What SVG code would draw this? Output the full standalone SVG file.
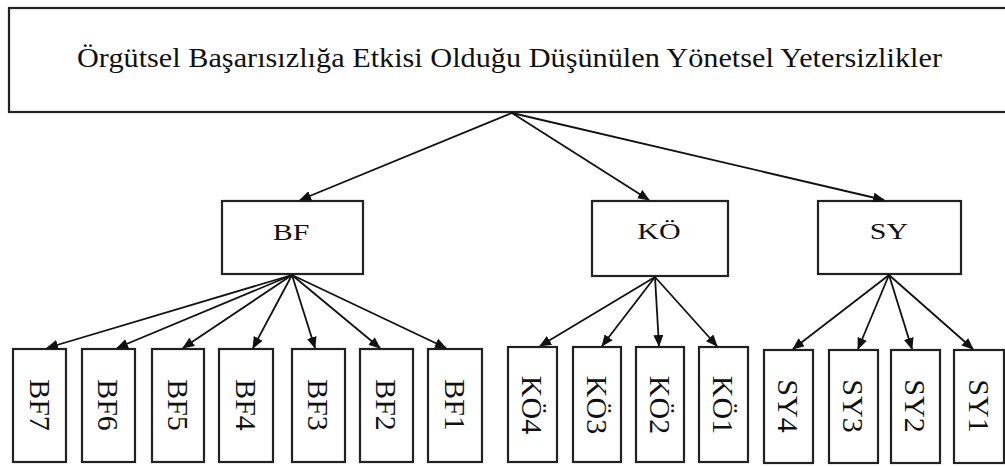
<svg xmlns="http://www.w3.org/2000/svg" width="1005" height="467" viewBox="0 0 1005 467">
<style>
.box{fill:#fff;stroke:#222;stroke-width:2.2}
.conn line{stroke:#111;stroke-width:1.8;fill:none}
.t{font-family:"Liberation Serif","Times New Roman",serif;fill:#111}
.mt{font-family:"Liberation Serif","Times New Roman",serif;fill:#111;font-size:24px;text-anchor:middle}
.vt{font-family:"Liberation Serif","Times New Roman",serif;fill:#111;font-size:30px;text-anchor:middle}
</style>
<defs>
<marker id="ah" markerWidth="12" markerHeight="10" refX="11" refY="5" orient="auto" markerUnits="userSpaceOnUse">
<path d="M0,0 L12,5 L0,10 z" fill="#111"/>
</marker>
</defs>
<rect width="1005" height="467" fill="#fff"/>

<g id="root">
<rect class="box" x="9" y="8" width="1010" height="104" stroke-width="2.6"/>
<text class="t" x="77" y="67" font-size="27" textLength="865" lengthAdjust="spacingAndGlyphs">Örgütsel Başarısızlığa Etkisi Olduğu Düşünülen Yönetsel Yetersizlikler</text>
</g>

<g id="BF"><rect class="box" x="222" y="201" width="141" height="73"/><text class="mt" transform="translate(291,240) scale(1.25,1)">BF</text></g>
<g id="KO"><rect class="box" x="592" y="201" width="136" height="75"/><text class="mt" transform="translate(659,239) scale(1.25,1)">KÖ</text></g>
<g id="SY"><rect class="box" x="818" y="201" width="143" height="73"/><text class="mt" transform="translate(889,239) scale(1.25,1)">SY</text></g>

<g id="BF7"><rect class="box" x="13" y="349" width="53" height="113"/><text class="vt" x="0" y="10" transform="translate(40,405) rotate(90)">BF7</text></g>
<g id="BF6"><rect class="box" x="82" y="349" width="53" height="113"/><text class="vt" x="0" y="10" transform="translate(108,405) rotate(90)">BF6</text></g>
<g id="BF5"><rect class="box" x="152" y="349" width="52" height="113"/><text class="vt" x="0" y="10" transform="translate(178,405) rotate(90)">BF5</text></g>
<g id="BF4"><rect class="box" x="219" y="349" width="54" height="113"/><text class="vt" x="0" y="10" transform="translate(246,405) rotate(90)">BF4</text></g>
<g id="BF3"><rect class="box" x="292" y="349" width="53" height="113"/><text class="vt" x="0" y="10" transform="translate(318,405) rotate(90)">BF3</text></g>
<g id="BF2"><rect class="box" x="360" y="349" width="53" height="113"/><text class="vt" x="0" y="10" transform="translate(386,405) rotate(90)">BF2</text></g>
<g id="BF1"><rect class="box" x="428" y="349" width="54" height="113"/><text class="vt" x="0" y="10" transform="translate(455,405) rotate(90)">BF1</text></g>

<g id="KO4"><rect class="box" x="508" y="347" width="49" height="115"/><text class="vt" x="0" y="10" transform="translate(532,405) rotate(90)">KÖ4</text></g>
<g id="KO3"><rect class="box" x="573" y="347" width="48" height="115"/><text class="vt" x="0" y="10" transform="translate(597,405) rotate(90)">KÖ3</text></g>
<g id="KO2"><rect class="box" x="636" y="347" width="48" height="115"/><text class="vt" x="0" y="10" transform="translate(660,405) rotate(90)">KÖ2</text></g>
<g id="KO1"><rect class="box" x="699" y="347" width="49" height="115"/><text class="vt" x="0" y="10" transform="translate(723,405) rotate(90)">KÖ1</text></g>

<g id="SY4"><rect class="box" x="764" y="350" width="49" height="113"/><text class="vt" x="0" y="10" transform="translate(788,406) rotate(90)">SY4</text></g>
<g id="SY3"><rect class="box" x="829" y="350" width="49" height="113"/><text class="vt" x="0" y="10" transform="translate(853,406) rotate(90)">SY3</text></g>
<g id="SY2"><rect class="box" x="891" y="350" width="49" height="113"/><text class="vt" x="0" y="10" transform="translate(915,406) rotate(90)">SY2</text></g>
<g id="SY1"><rect class="box" x="954" y="350" width="50" height="113"/><text class="vt" x="0" y="10" transform="translate(979,406) rotate(90)">SY1</text></g>

<g id="connectors" class="conn">
<line x1="512" y1="113" x2="300" y2="200" marker-end="url(#ah)"/>
<line x1="512" y1="113" x2="649" y2="200" marker-end="url(#ah)"/>
<line x1="512" y1="113" x2="884" y2="200" marker-end="url(#ah)"/>

<line x1="292" y1="275" x2="47" y2="348" marker-end="url(#ah)"/>
<line x1="292" y1="275" x2="117" y2="348" marker-end="url(#ah)"/>
<line x1="292" y1="275" x2="183" y2="348" marker-end="url(#ah)"/>
<line x1="292" y1="275" x2="253" y2="348" marker-end="url(#ah)"/>
<line x1="292" y1="275" x2="315" y2="348" marker-end="url(#ah)"/>
<line x1="292" y1="275" x2="380" y2="348" marker-end="url(#ah)"/>
<line x1="292" y1="275" x2="446" y2="348" marker-end="url(#ah)"/>

<line x1="655" y1="277" x2="540" y2="346" marker-end="url(#ah)"/>
<line x1="655" y1="277" x2="602" y2="346" marker-end="url(#ah)"/>
<line x1="655" y1="277" x2="659" y2="346" marker-end="url(#ah)"/>
<line x1="655" y1="277" x2="717" y2="346" marker-end="url(#ah)"/>

<line x1="889" y1="275" x2="793" y2="349" marker-end="url(#ah)"/>
<line x1="889" y1="275" x2="858" y2="349" marker-end="url(#ah)"/>
<line x1="889" y1="275" x2="912" y2="349" marker-end="url(#ah)"/>
<line x1="889" y1="275" x2="973" y2="349" marker-end="url(#ah)"/>
</g>
</svg>
